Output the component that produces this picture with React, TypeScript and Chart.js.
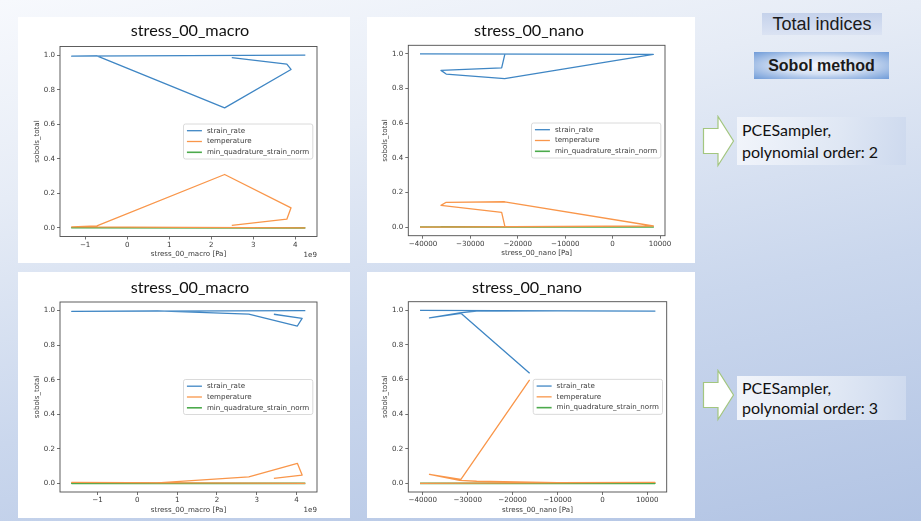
import React, { useEffect, useRef } from "react";
import { Chart, registerables } from "chart.js";

Chart.register(...registerables);

// ---------------- data ----------------
const SERIES_LABELS = ["strain_rate", "temperature", "min_quadrature_strain_norm"];
const SERIES_COLORS = ["#3f86c4", "#f9964a", "#4caa4c"];
const Y_TICKS = [0, 0.2, 0.4, 0.6, 0.8, 1.0];
const Y_TITLE = "sobols_total";

const MACRO_X_TITLE = "stress_00_macro [Pa]";
const NANO_X_TITLE = "stress_00_nano [Pa]";
const MACRO_TITLE = "stress_00_macro";
const NANO_TITLE = "stress_00_nano";
const MACRO_OFFSET = "1e9";

const MACRO_X_TICKS = [-1, 0, 1, 2, 3, 4]; // units of 1e9 Pa
const NANO_X_TICKS = [-40000, -30000, -20000, -10000, 0, 10000];

// PCESampler, polynomial order 2 — macro (x in 1e9 Pa)
const macroO2Stress = [2.49, 3.8, 3.9, 2.32, -0.72, -1.32, 4.24];
const macroO2StrainRate = [0.985, 0.948, 0.917, 0.695, 0.996, 0.994, 1.0];
const macroO2Temperature = [0.015, 0.05, 0.116, 0.309, 0.012, 0.006, 0.0];
const macroO2MinQuad = [0.001, 0.001, 0.001, 0.001, 0.0005, 0.0005, 0.0];

// PCESampler, polynomial order 2 — nano
const nanoO2Stress = [-22710, -23400, -36200, -35100, -22770, 8590, -40630];
const nanoO2StrainRate = [1.0, 0.919, 0.905, 0.884, 0.858, 0.998, 1.0];
const nanoO2Temperature = [0.002, 0.085, 0.125, 0.143, 0.146, 0.006, 0.0];
const nanoO2MinQuad = [0.0, 0.0005, 0.001, 0.001, 0.001, 0.0, 0.0];

// PCESampler, polynomial order 3 — macro (x in 1e9 Pa)
const macroO3Stress = [3.43, 4.14, 4.02, 2.8, 0.5, -1.65, 4.22];
const macroO3StrainRate = [0.979, 0.955, 0.911, 0.98, 0.999, 0.996, 1.0];
const macroO3Temperature = [0.029, 0.048, 0.116, 0.038, 0.003, 0.006, 0.0];
const macroO3MinQuad = [0.0005, 0.0005, 0.001, 0.0005, 0.0, 0.0, 0.0];

// PCESampler, polynomial order 3 — nano
const nanoO3Stress = [-16200, -31500, -38500, -31800, -28000, -10000, 11700, -40600];
const nanoO3StrainRate = [0.637, 0.983, 0.957, 0.985, 0.995, 0.997, 0.996, 1.0];
const nanoO3Temperature = [0.598, 0.023, 0.052, 0.017, 0.012, 0.004, 0.006, 0.0];
const nanoO3MinQuad = [0.001, 0.0005, 0.0005, 0.0005, 0.0, 0.0, 0.0, 0.0];

// ---------------- helpers ----------------
const MPL_FONT = "'DejaVu Sans'";
const FONT_SIZE = 7.1;
const X_AXIS_H = 22;
const TEXT_COLOR = "#3a3a3a";

function autoLimits(vals: number[]): [number, number] {
  const mn = Math.min(...vals);
  const mx = Math.max(...vals);
  const m = (mx - mn) * 0.05;
  return [mn - m, mx + m];
}

function fmtTick(v: number) {
  const r = Math.round(v * 1000) / 1000;
  return r < 0 ? "\u2212" + String(Math.abs(r)) : String(r);
}

const mplPlugin = {
  id: "mpl",
  afterDatasetsDraw(chart: any, _args: any, opts: any) {
    const { ctx, chartArea: a } = chart;
    ctx.save();
    // spines
    ctx.strokeStyle = "#4d4d4d";
    ctx.lineWidth = 0.9;
    ctx.strokeRect(a.left, a.top, a.right - a.left, a.bottom - a.top);

    // legend (center right)
    ctx.font = `${FONT_SIZE}px ${MPL_FONT}`;
    const ds = chart.data.datasets;
    let tw = 0;
    ds.forEach((d: any) => {
      tw = Math.max(tw, ctx.measureText(d.label).width);
    });
    const w = 23.4 + tw + 3.6;
    const rowH = 10.8;
    const h = 13.4 + rowH * (ds.length - 1);
    const x = a.right - 4.2 - w;
    const y = (a.top + a.bottom) / 2 - h / 2;
    ctx.beginPath();
    if ((ctx as any).roundRect) (ctx as any).roundRect(x, y, w, h, 2);
    else ctx.rect(x, y, w, h);
    ctx.fillStyle = "rgba(255,255,255,0.85)";
    ctx.fill();
    ctx.strokeStyle = "#d0d0d0";
    ctx.lineWidth = 0.8;
    ctx.stroke();
    ds.forEach((d: any, i: number) => {
      const cy = y + 6.7 + i * rowH;
      ctx.strokeStyle = d.borderColor;
      ctx.lineWidth = d.borderWidth;
      ctx.beginPath();
      ctx.moveTo(x + 3.4, cy);
      ctx.lineTo(x + 18.4, cy);
      ctx.stroke();
      ctx.fillStyle = TEXT_COLOR;
      ctx.textBaseline = "middle";
      ctx.textAlign = "left";
      ctx.fillText(d.label, x + 23.4, cy);
    });

    // offset text (e.g. 1e9)
    if (opts && opts.offsetText) {
      ctx.fillStyle = TEXT_COLOR;
      ctx.textAlign = "right";
      ctx.textBaseline = "middle";
      ctx.fillText(opts.offsetText, a.right, a.bottom + 18.5);
    }
    ctx.restore();
  },
};

type Area = { l: number; t: number; r: number; b: number };

function Panel(props: {
  left: number;
  top: number;
  width: number;
  height: number;
  area: Area;
  title: string;
  titleCx: number;
  titleCy: number;
  xs: number[];
  ys: number[][];
  xTicks: number[];
  xTitle: string;
  offsetText?: string;
}) {
  const { left, top, width, height, area, title, titleCx, titleCy, xs, ys, xTicks, xTitle, offsetText } = props;
  const ref = useRef<HTMLCanvasElement | null>(null);

  useEffect(() => {
    const canvas = ref.current;
    if (!canvas) return;
    const [xmin, xmax] = autoLimits(xs);
    const [ymin, ymax] = autoLimits(ys.flat());
    const lineH = FONT_SIZE * 1.2;
    const chart = new Chart(canvas, {
      type: "line",
      data: {
        datasets: SERIES_LABELS.map((label, k) => ({
          label,
          data: xs.map((x, i) => ({ x, y: ys[k][i] })),
          borderColor: SERIES_COLORS[k],
          backgroundColor: SERIES_COLORS[k],
          borderWidth: k === 2 ? 1.6 : 1.3,
          pointRadius: 0,
          pointHoverRadius: 0,
          fill: false,
          tension: 0,
          borderJoinStyle: "round" as const,
        })),
      },
      options: {
        animation: false,
        responsive: false,
        devicePixelRatio: 1,
        events: [],
        layout: {
          padding: {
            left: 0,
            top: area.t,
            right: width - area.r,
            bottom: height - area.b - X_AXIS_H,
          },
        },
        plugins: {
          legend: { display: false },
          title: { display: false },
          tooltip: { enabled: false },
          mpl: { offsetText },
        } as any,
        scales: {
          x: {
            type: "linear",
            min: xmin,
            max: xmax,
            afterBuildTicks: (s: any) => {
              s.ticks = xTicks.map((v) => ({ value: v }));
            },
            afterFit: (s: any) => {
              s.height = X_AXIS_H;
            },
            ticks: {
              autoSkip: false,
              maxRotation: 0,
              padding: 1,
              color: TEXT_COLOR,
              font: { family: MPL_FONT, size: FONT_SIZE },
              callback: (v: any) => fmtTick(Number(v)),
            },
            grid: {
              display: true,
              drawOnChartArea: false,
              drawTicks: true,
              tickLength: 3,
              tickColor: "#4d4d4d",
              tickWidth: 0.8,
            },
            border: { display: false },
            title: {
              display: true,
              text: xTitle,
              color: TEXT_COLOR,
              font: { family: MPL_FONT, size: FONT_SIZE },
              padding: { top: 0, bottom: 0 },
            },
          },
          y: {
            type: "linear",
            min: ymin,
            max: ymax,
            afterBuildTicks: (s: any) => {
              s.ticks = Y_TICKS.map((v) => ({ value: v }));
            },
            afterFit: (s: any) => {
              s.width = area.l;
            },
            ticks: {
              autoSkip: false,
              padding: 2,
              color: TEXT_COLOR,
              font: { family: MPL_FONT, size: FONT_SIZE },
              callback: (v: any) => Number(v).toFixed(1),
            },
            grid: {
              display: true,
              drawOnChartArea: false,
              drawTicks: true,
              tickLength: 3,
              tickColor: "#4d4d4d",
              tickWidth: 0.8,
            },
            border: { display: false },
            title: {
              display: true,
              text: Y_TITLE,
              color: TEXT_COLOR,
              font: { family: MPL_FONT, size: FONT_SIZE },
              padding: { top: Math.max(0, area.l - 23 - lineH / 2), bottom: 0 },
            },
          },
        },
      },
      plugins: [mplPlugin as any],
    } as any);
    return () => chart.destroy();
  }, []);

  return (
    <div
      style={{
        position: "absolute",
        left,
        top,
        width,
        height,
        background: "#ffffff",
      }}
    >
      <canvas ref={ref} width={width} height={height} style={{ position: "absolute", left: 0, top: 0, width, height }} />
      <div
        style={{
          position: "absolute",
          left: titleCx - 120,
          top: titleCy - 11,
          width: 240,
          height: 22,
          lineHeight: "22px",
          textAlign: "center",
          fontFamily: "Lato, 'Open Sans', sans-serif",
          fontSize: 16.2,
          color: "#111",
          whiteSpace: "nowrap",
        }}
      >
        {title}
      </div>
    </div>
  );
}

function Arrow({ left, top }: { left: number; top: number }) {
  return (
    <svg style={{ position: "absolute", left, top }} width={34} height={54}>
      <polygon
        points="1.5,13.5 16,13.5 16,1.5 31.5,26 16,50.5 16,38.5 1.5,38.5"
        fill="#ffffff"
        stroke="#a3c67f"
        strokeWidth={1.2}
      />
    </svg>
  );
}

export default function App() {
  useEffect(() => {
    document.body.style.margin = "0";
  }, []);

  return (
    <div
      style={{
        position: "fixed",
        left: 0,
        top: 0,
        width: 921,
        height: 521,
        overflow: "hidden",
        background: "linear-gradient(168deg, #f7f9fd 0%, #e6ecf6 28%, #cad7ed 62%, #b2c4e4 100%)",
      }}
    >
      <Panel
        left={18}
        top={17}
        width={332}
        height={246}
        area={{ l: 42, t: 29.5, r: 299, b: 219.5 }}
        title={MACRO_TITLE}
        titleCx={172}
        titleCy={13}
        xs={macroO2Stress}
        ys={[macroO2StrainRate, macroO2Temperature, macroO2MinQuad]}
        xTicks={MACRO_X_TICKS}
        xTitle={MACRO_X_TITLE}
        offsetText={MACRO_OFFSET}
      />
      <Panel
        left={367}
        top={17}
        width={328}
        height={246}
        area={{ l: 41.3, t: 28.3, r: 298, b: 218.7 }}
        title={NANO_TITLE}
        titleCx={162}
        titleCy={13}
        xs={nanoO2Stress}
        ys={[nanoO2StrainRate, nanoO2Temperature, nanoO2MinQuad]}
        xTicks={NANO_X_TICKS}
        xTitle={NANO_X_TITLE}
      />
      <Panel
        left={18}
        top={272}
        width={332}
        height={246}
        area={{ l: 42, t: 30, r: 299, b: 220 }}
        title={MACRO_TITLE}
        titleCx={172}
        titleCy={15}
        xs={macroO3Stress}
        ys={[macroO3StrainRate, macroO3Temperature, macroO3MinQuad]}
        xTicks={MACRO_X_TICKS}
        xTitle={MACRO_X_TITLE}
        offsetText={MACRO_OFFSET}
      />
      <Panel
        left={367}
        top={272}
        width={328}
        height={246}
        area={{ l: 41.3, t: 29.7, r: 299.7, b: 220 }}
        title={NANO_TITLE}
        titleCx={160}
        titleCy={15}
        xs={nanoO3Stress}
        ys={[nanoO3StrainRate, nanoO3Temperature, nanoO3MinQuad]}
        xTicks={NANO_X_TICKS}
        xTitle={NANO_X_TITLE}
      />

      {/* right-hand annotations */}
      <div
        style={{
          position: "absolute",
          left: 762,
          top: 13,
          width: 120,
          height: 22,
          lineHeight: "22px",
          textAlign: "center",
          background: "linear-gradient(#c5d2eb, #dbe3f3)",
          fontFamily: "'Liberation Sans', Arial, sans-serif",
          fontSize: 18,
          color: "#1b1b1b",
          whiteSpace: "nowrap",
        }}
      >
        Total indices
      </div>
      <div
        style={{
          position: "absolute",
          left: 754,
          top: 52,
          width: 135,
          height: 27,
          lineHeight: "27px",
          textAlign: "center",
          background: "radial-gradient(ellipse at center, #f7f9fd 0%, #d4e0f3 45%, #6f9bd8 100%)",
          fontFamily: "'Liberation Sans', Arial, sans-serif",
          fontWeight: "bold",
          fontSize: 16,
          color: "#1b1b1b",
          whiteSpace: "nowrap",
        }}
      >
        Sobol method
      </div>

      <Arrow left={702} top={115} />
      <div
        style={{
          position: "absolute",
          left: 737,
          top: 117,
          width: 169,
          height: 48,
          boxSizing: "border-box",
          paddingLeft: 5,
          paddingTop: 2,
          background: "linear-gradient(100deg, #f2f5fb 0%, #dfe7f4 60%, #cdd9ee 100%)",
          fontFamily: "Lato, 'Open Sans', sans-serif",
          fontSize: 16,
          lineHeight: "22px",
          color: "#111",
          whiteSpace: "nowrap",
        }}
      >
        <div>PCESampler,</div>
        <div>polynomial order: 2</div>
      </div>

      <Arrow left={702} top={369} />
      <div
        style={{
          position: "absolute",
          left: 737,
          top: 376,
          width: 169,
          height: 44,
          boxSizing: "border-box",
          paddingLeft: 5,
          paddingTop: 2,
          background: "linear-gradient(100deg, #f2f5fb 0%, #dfe7f4 60%, #cdd9ee 100%)",
          fontFamily: "Lato, 'Open Sans', sans-serif",
          fontSize: 16,
          lineHeight: "20px",
          color: "#111",
          whiteSpace: "nowrap",
        }}
      >
        <div>PCESampler,</div>
        <div>polynomial order: 3</div>
      </div>
    </div>
  );
}
